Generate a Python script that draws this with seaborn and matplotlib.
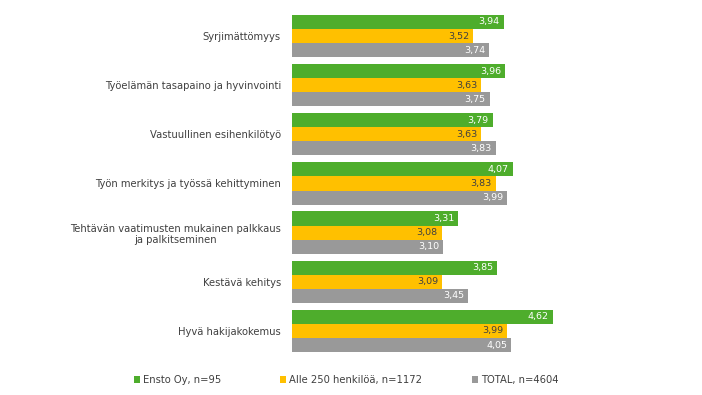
import matplotlib
matplotlib.use('Agg')
import matplotlib.pyplot as plt
import pandas as pd
import seaborn as sns

categories = [
    'Syrjimättömyys',
    'Työelämän tasapaino ja hyvinvointi',
    'Vastuullinen esihenkilötyö',
    'Työn merkitys ja työssä kehittyminen',
    'Tehtävän vaatimusten mukainen palkkaus\nja palkitseminen',
    'Kestävä kehitys',
    'Hyvä hakijakokemus',
]
series = ['Ensto Oy, n=95', 'Alle 250 henkilöä, n=1172', 'TOTAL, n=4604']
ensto = [3.94, 3.96, 3.79, 4.07, 3.31, 3.85, 4.62]
alle250 = [3.52, 3.63, 3.63, 3.83, 3.08, 3.09, 3.99]
total = [3.74, 3.75, 3.83, 3.99, 3.10, 3.45, 4.05]

colors = ['#4EAD2C', '#FFC000', '#999999']
label_colors = ['white', '#404040', 'white']


def build_frame():
    """
    Builds a long-form DataFrame from the series lists.
    """
    rows = []
    for name, values in zip(series, [ensto, alle250, total]):
        for cat, val in zip(categories, values):
            rows.append({'Kategoria': cat, 'Sarja': name, 'Arvo': val})
    return pd.DataFrame(rows)


def main():
    sns.set_style('white')
    plt.rcParams['font.family'] = ['DejaVu Sans']
    df = build_frame()

    fig = plt.figure(figsize=(7.02, 3.95), dpi=100)
    ax = fig.add_axes([0.416, 0.100, 0.410, 0.871])
    sns.barplot(data=df, y='Kategoria', x='Arvo', hue='Sarja',
                orient='h', palette=colors, width=0.86, ax=ax,
                legend=True, saturation=1, linewidth=0)

    ax.set_xlim(1, 5)
    ax.set_xlabel('')
    ax.set_ylabel('')
    ax.set_xticks([])
    ax.tick_params(axis='y', length=0, pad=8, labelsize=7.2,
                   labelcolor='#404040')
    for label in ax.get_yticklabels():
        label.set_multialignment('center')
    sns.despine(ax=ax, left=True, bottom=True)

    # value labels inside the bar ends
    for container, values, col in zip(ax.containers,
                                      [ensto, alle250, total],
                                      label_colors):
        for patch, val in zip(container.patches, values):
            ax.annotate(f'{val:.2f}'.replace('.', ','),
                        (patch.get_width(),
                         patch.get_y() + patch.get_height() / 2),
                        xytext=(-3, 0), textcoords='offset points',
                        ha='right', va='center', fontsize=6.8, color=col)

    # Excel-style legend, one entry at a time
    handles, labels = ax.get_legend_handles_labels()
    ax.get_legend().remove()
    for handle, label, x in zip(handles, labels, [0.191, 0.399, 0.672]):
        fig.legend([handle], [label], loc='center left',
                   bbox_to_anchor=(x, 0.038), frameon=False, fontsize=7.2,
                   handlelength=0.6, handleheight=0.6, handletextpad=0.3,
                   borderpad=0, borderaxespad=0, labelcolor='#404040')

    plt.savefig('out.png', dpi=100)


if __name__ == '__main__':
    main()
